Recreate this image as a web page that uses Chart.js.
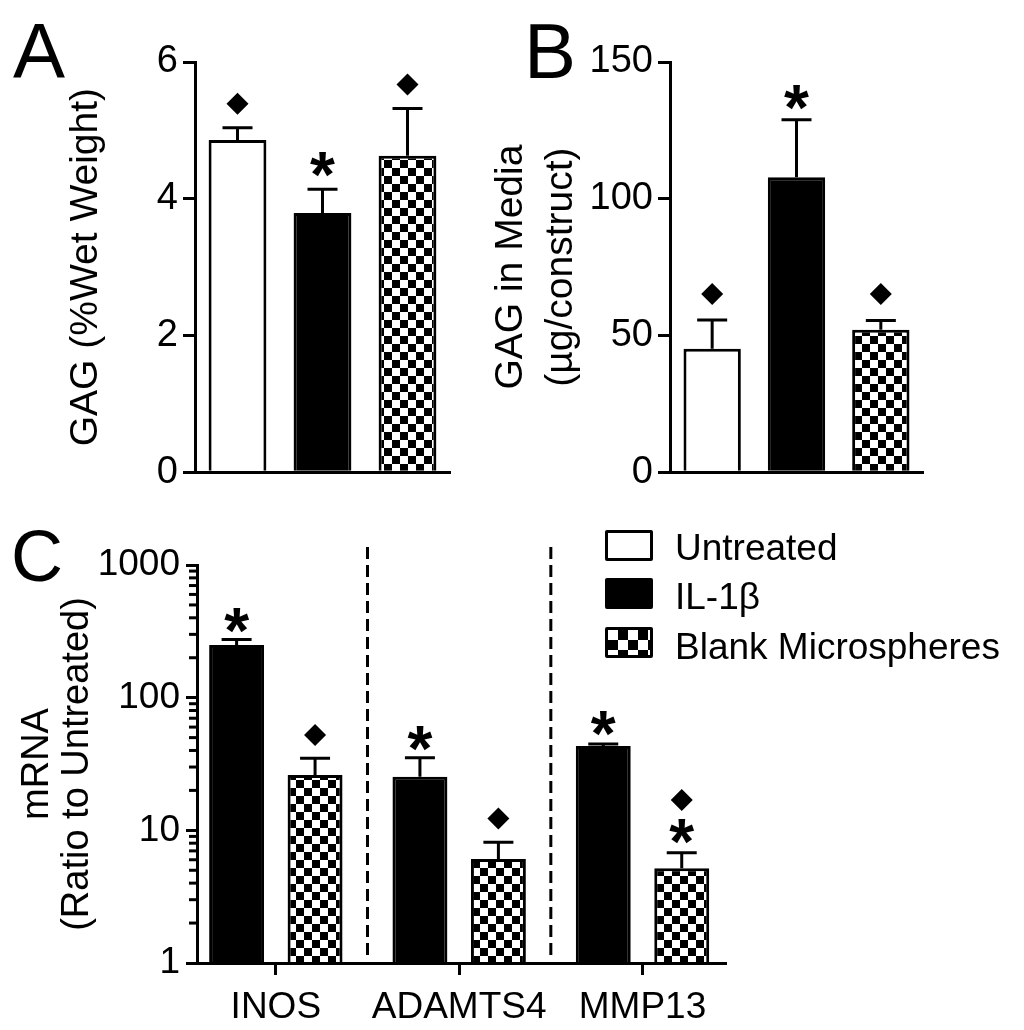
<!DOCTYPE html>
<html>
<head>
<meta charset="utf-8">
<script src="https://cdn.jsdelivr.net/npm/chart.js@4.4.1/dist/chart.umd.min.js"></script>
<style>
  body { margin: 0; background: #fff; }
  #fig { position: relative; width: 1024px; height: 1030px; font-family: 'Liberation Sans', Arial, sans-serif; color: #000; }
  canvas { position: absolute; }
  .panel { position: absolute; font-size: 78px; line-height: 78px; }
  .key { position: absolute; left: 605px; width: 42px; height: 25px; border: 3px solid #000; border-radius: 2px; }
  .keytext { position: absolute; left: 675px; font-size: 37px; line-height: 37px; white-space: nowrap; }
</style>
</head>
<body>
<div id="fig">
  <canvas id="chartA" width="470" height="500" style="left:0;top:0"></canvas>
  <canvas id="chartB" width="554" height="500" style="left:470px;top:0"></canvas>
  <canvas id="chartC" width="760" height="530" style="left:0;top:500px"></canvas>

  <div class="panel" style="left:13px;top:12px">A</div>
  <div class="panel" style="left:524px;top:12px">B</div>
  <div class="panel" style="left:11px;top:520px;font-size:72px;line-height:72px">C</div>

  <div class="key" style="top:530px;background:#fff"></div>
  <div class="keytext" style="top:529px">Untreated</div>
  <div class="key" style="top:578px;background:#000"></div>
  <div class="keytext" style="top:578px">IL-1β</div>
  <div class="key" style="top:627px;background:repeating-conic-gradient(#000 0 25%, #fff 0 50%) 0 0 / 20px 20px"></div>
  <div class="keytext" style="top:628px">Blank Microspheres</div>
</div>

<script>
// groups shown in A and B
const groups = ['Untreated', 'IL-1β', 'Blank Microspheres'];

// A: GAG (% wet weight)
const gagWet = [4.86, 3.79, 4.63];
const gagWetSem = [0.18, 0.35, 0.69];
const gagWetStar = [null, 4.50, null];
const gagWetDiamond = [5.39, null, 5.67];

// B: GAG released to media (ug/construct)
const gagMedia = [45.1, 107.9, 52.1];
const gagMediaSem = [10.6, 21.0, 3.4];
const gagMediaStar = [null, 137.2, null];
const gagMediaDiamond = [65.2, null, 65.2];

// C: mRNA ratio to untreated (log axis)
const genes = ['INOS', 'ADAMTS4', 'MMP13'];
const mrnaIl1 = [249, 25.4, 43.2];
const mrnaIl1Sem = [26, 9.8, 1.5];
const mrnaIl1Star = [384, 49.6, 64];
const mrnaBlank = [26.1, 6.08, 5.17];
const mrnaBlankSem = [8.8, 2.04, 1.6];
const mrnaBlankStar = [null, null, 9.77];
const mrnaBlankDiamond = [52.3, 12.3, 16.9];
const dividerAt = [0.5, 1.5];
const logMin = 1;
const logMax = 1000;

Chart.defaults.font.family = "'Liberation Sans', Arial, sans-serif";
Chart.defaults.color = '#000';

function checker(canvasId, size) {
    const c = document.createElement('canvas');
    c.width = c.height = size * 2;
    const g = c.getContext('2d');
    g.fillStyle = '#fff';
    g.fillRect(0, 0, size * 2, size * 2);
    g.fillStyle = '#000';
    g.fillRect(0, 0, size, size);
    g.fillRect(size, size, size, size);
    return document.getElementById(canvasId).getContext('2d').createPattern(c, 'repeat');
}

const isPow10 = v => {
    const l = Math.log10(v);
    return Math.abs(l - Math.round(l)) < 1e-9;
};

// error bars, stars and diamonds on top of the bars
const marks = {
    id: 'marks',
    afterDatasetsDraw(chart) {
        const ctx = chart.ctx;
        const ys = chart.scales.y;
        ctx.save();
        chart.data.datasets.forEach((ds, d) => {
            const meta = chart.getDatasetMeta(d);
            meta.data.forEach((bar, i) => {
                const raw = ds.data[i];
                const v = typeof raw === 'object' ? raw.y : raw;
                const x = bar.x;
                if (ds.sem && ds.sem[i] != null) {
                    const top = ys.getPixelForValue(v + ds.sem[i]);
                    ctx.strokeStyle = '#000';
                    ctx.lineWidth = 3;
                    ctx.beginPath();
                    ctx.moveTo(x, bar.y);
                    ctx.lineTo(x, top);
                    ctx.moveTo(x - 15, top);
                    ctx.lineTo(x + 15, top);
                    ctx.stroke();
                }
                if (ds.stars && ds.stars[i] != null) {
                    const py = ys.getPixelForValue(ds.stars[i]);
                    ctx.font = "bold 64px 'Liberation Sans', Arial, sans-serif";
                    ctx.textAlign = 'center';
                    ctx.textBaseline = 'alphabetic';
                    const m = ctx.measureText('*');
                    ctx.fillStyle = '#000';
                    ctx.fillText('*', x, py + (m.actualBoundingBoxAscent - m.actualBoundingBoxDescent) / 2);
                }
                if (ds.diamonds && ds.diamonds[i] != null) {
                    const py = ys.getPixelForValue(ds.diamonds[i]);
                    const r = 11;
                    ctx.fillStyle = '#000';
                    ctx.beginPath();
                    ctx.moveTo(x, py - r);
                    ctx.lineTo(x + r, py);
                    ctx.lineTo(x, py + r);
                    ctx.lineTo(x - r, py);
                    ctx.closePath();
                    ctx.fill();
                }
            });
        });
        ctx.restore();
    }
};

// dashed separators and minor log ticks for panel C
const extras = {
    id: 'extras',
    afterDraw(chart, args, opts) {
        const ctx = chart.ctx;
        const area = chart.chartArea;
        const ys = chart.scales.y;
        ctx.save();
        ctx.strokeStyle = '#000';
        ctx.lineWidth = 3;
        ctx.setLineDash([12, 6]);
        (opts.at || []).forEach(v => {
            const px = chart.scales.x.getPixelForValue(v);
            ctx.beginPath();
            ctx.moveTo(px, area.top - 18);
            ctx.lineTo(px, area.bottom - 2);
            ctx.stroke();
        });
        ctx.setLineDash([]);
        ctx.lineWidth = 3;
        const lo = Math.round(Math.log10(opts.min || 1));
        const hi = Math.round(Math.log10(opts.max || 1));
        for (let e = lo; e < hi; e++) {
            for (let k = 2; k <= 9; k++) {
                const py = ys.getPixelForValue(k * Math.pow(10, e));
                ctx.beginPath();
                ctx.moveTo(area.left - 8, py);
                ctx.lineTo(area.left, py);
                ctx.stroke();
            }
        }
        ctx.restore();
    }
};

const axisBorder = { display: true, color: '#000', width: 3, z: 1 };

function simpleBar(id, values, sem, stars, diamonds, yMax, yStep, title, titleLH, padLeft, yWidth, padRight) {
    return new Chart(document.getElementById(id), {
        type: 'bar',
        data: {
            labels: groups,
            datasets: [{
                data: values,
                sem: sem,
                stars: stars,
                diamonds: diamonds,
                backgroundColor: ['#fff', '#000', checker(id, 8)],
                borderColor: '#000',
                borderWidth: 3,
                categoryPercentage: 1,
                barPercentage: 0.68
            }]
        },
        options: {
            responsive: false,
            animation: false,
            devicePixelRatio: 1,
            layout: { padding: { left: padLeft, top: 62, right: padRight, bottom: 25 } },
            plugins: { legend: { display: false }, tooltip: { enabled: false } },
            scales: {
                x: {
                    ticks: { display: false },
                    grid: { display: false },
                    border: axisBorder,
                    afterFit: s => { s.height = 0; }
                },
                y: {
                    min: 0,
                    max: yMax,
                    ticks: { stepSize: yStep, font: { size: 38 }, color: '#000', padding: 5 },
                    grid: { drawOnChartArea: false, tickLength: 12, lineWidth: 3, color: '#000' },
                    border: axisBorder,
                    title: { display: true, text: title, color: '#000', padding: 0, font: { size: 39, lineHeight: titleLH } },
                    afterFit: s => { s.width = yWidth; }
                }
            }
        },
        plugins: [marks]
    });
}

simpleBar('chartA', gagWet, gagWetSem, gagWetStar, gagWetDiamond, 6, 2,
    'GAG (%Wet Weight)', 1.2, 63, 132, 20);
simpleBar('chartB', gagMedia, gagMediaSem, gagMediaStar, gagMediaDiamond, 150, 50,
    ['GAG in Media', '(µg/construct)'], 50 / 39, 16.5, 183.5, 101);

new Chart(document.getElementById('chartC'), {
    type: 'bar',
    data: {
        datasets: [{
            label: 'IL-1β',
            data: genes.map((g, i) => ({ x: i, y: mrnaIl1[i] })),
            sem: mrnaIl1Sem,
            stars: mrnaIl1Star,
            backgroundColor: '#000',
            borderColor: '#000',
            borderWidth: 3,
            categoryPercentage: 0.856,
            barPercentage: 0.70
        }, {
            label: 'Blank Microspheres',
            data: genes.map((g, i) => ({ x: i, y: mrnaBlank[i] })),
            sem: mrnaBlankSem,
            stars: mrnaBlankStar,
            diamonds: mrnaBlankDiamond,
            backgroundColor: checker('chartC', 8),
            borderColor: '#000',
            borderWidth: 3,
            categoryPercentage: 0.856,
            barPercentage: 0.70
        }]
    },
    options: {
        responsive: false,
        animation: false,
        devicePixelRatio: 1,
        layout: { padding: { left: 18, top: 65, right: 35, bottom: 0 } },
        plugins: {
            legend: { display: false },
            tooltip: { enabled: false },
            extras: { at: dividerAt, min: logMin, max: logMax }
        },
        scales: {
            x: {
                type: 'linear',
                min: -0.43,
                max: 2.45,
                offset: false,
                ticks: {
                    stepSize: 1,
                    includeBounds: false,
                    autoSkip: false,
                    maxRotation: 0,
                    font: { size: 37 },
                    color: '#000',
                    padding: 11,
                    callback: v => genes[v] ?? ''
                },
                grid: { offset: false, drawOnChartArea: false, tickLength: 12, lineWidth: 3, color: '#000' },
                border: axisBorder,
                afterFit: s => { s.height = 67; }
            },
            y: {
                type: 'logarithmic',
                min: logMin,
                max: logMax,
                ticks: {
                    autoSkip: false,
                    font: { size: 37 },
                    color: '#000',
                    padding: 6,
                    callback: v => isPow10(v) ? String(Math.round(v)) : ''
                },
                grid: {
                    drawOnChartArea: false,
                    tickLength: 11,
                    lineWidth: 3,
                    color: '#000',
                    tickColor: c => (c.tick && isPow10(c.tick.value)) ? '#000' : 'rgba(0,0,0,0)'
                },
                border: axisBorder,
                title: {
                    display: true,
                    text: ['mRNA', '(Ratio to Untreated)'],
                    color: '#000',
                    padding: 0,
                    font: { size: 38, lineHeight: 40 / 38 }
                },
                afterFit: s => { s.width = 179; }
            }
        }
    },
    plugins: [marks, extras]
});
</script>
</body>
</html>
